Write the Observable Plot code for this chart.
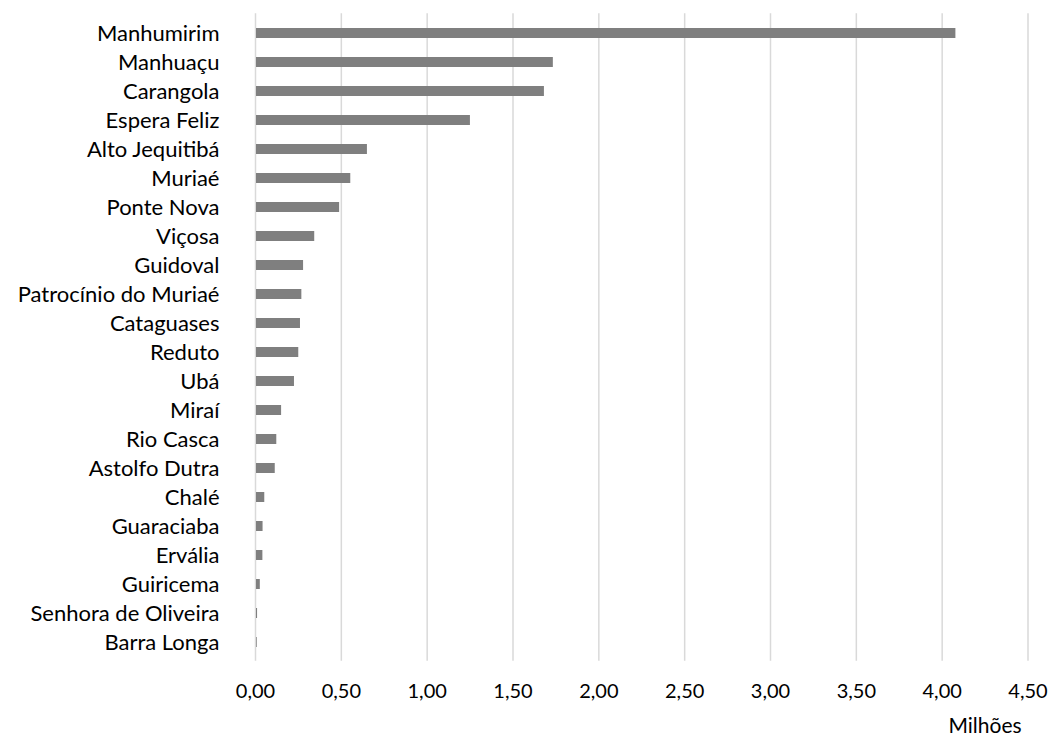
<!DOCTYPE html>
<html>
<head>
<meta charset="utf-8">
<script src="https://cdn.jsdelivr.net/npm/d3@7"></script>
<script src="https://cdn.jsdelivr.net/npm/@observablehq/plot@0.6"></script>
<style>
  html, body { margin: 0; padding: 0; background: #fff; }
  #chart { width: 1051px; height: 736px; }
</style>
</head>
<body>
<div id="chart"></div>
<script>
const municipios = [
  "Manhumirim", "Manhuaçu", "Carangola", "Espera Feliz", "Alto Jequitibá",
  "Muriaé", "Ponte Nova", "Viçosa", "Guidoval", "Patrocínio do Muriaé",
  "Cataguases", "Reduto", "Ubá", "Miraí", "Rio Casca", "Astolfo Dutra",
  "Chalé", "Guaraciaba", "Ervália", "Guiricema", "Senhora de Oliveira", "Barra Longa"
];
const valores = [
  4.08, 1.735, 1.683, 1.252, 0.652,
  0.555, 0.490, 0.345, 0.280, 0.270,
  0.262, 0.252, 0.227, 0.152, 0.124, 0.115,
  0.054, 0.044, 0.043, 0.028, 0.012, 0.010
];
const xTicks = [0, 0.5, 1, 1.5, 2, 2.5, 3, 3.5, 4, 4.5];
const axisLabel = "Milhões";

const data = municipios.map((m, i) => ({municipio: m, valor: valores[i]}));
const fmt = d => d.toFixed(2).replace(".", ",");

const chart = Plot.plot({
  width: 1051,
  height: 736,
  marginLeft: 255,
  marginRight: 23.5,
  marginTop: 13.3,
  marginBottom: 75.3,
  style: {fontFamily: "Lato, 'Open Sans', sans-serif", fontSize: "20px", color: "#000", background: "#fff"},
  x: {domain: [0, 4.5], ticks: xTicks},
  y: {domain: municipios, paddingInner: 0.66, paddingOuter: 0.33},
  marks: [
    Plot.ruleX(xTicks, {stroke: "#d9d9d9", strokeWidth: 1.5}),
    Plot.barX(data, {x: "valor", y: "municipio", fill: "#7f7f7f", insetLeft: 1}),
    Plot.axisY({tickSize: 0, tickPadding: 36, label: null, fontSize: 22, fill: "#000"}),
    Plot.axisX({ticks: xTicks, tickSize: 0, tickPadding: 23, tickFormat: fmt, label: null, fontSize: 20, fill: "#000"}),
    Plot.text([axisLabel], {frameAnchor: "bottom-right", dx: -43, dy: 72, textAnchor: "middle", fontSize: 21, fill: "#000"})
  ]
});
document.getElementById("chart").appendChild(chart);
</script>
</body>
</html>
